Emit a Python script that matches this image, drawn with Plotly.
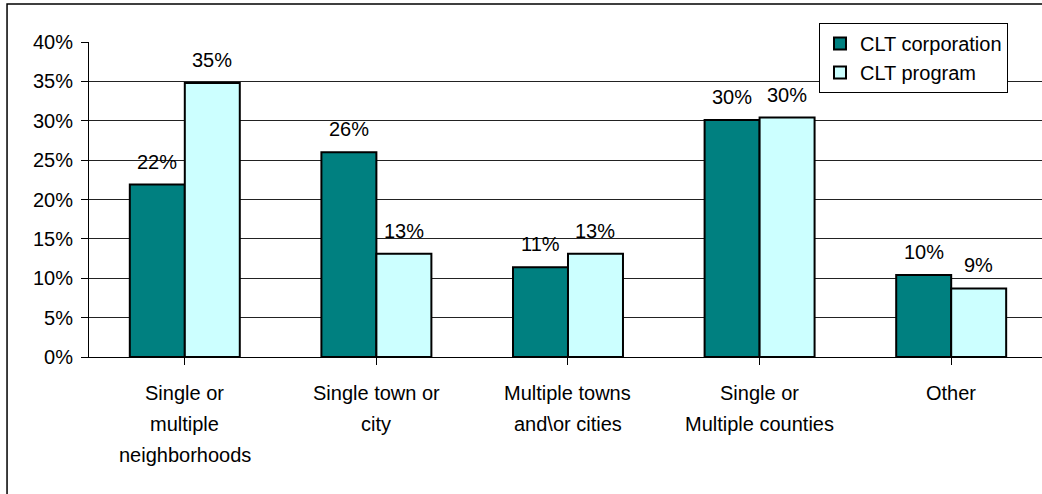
import plotly.graph_objects as go

# data
categories = [
    "Single or<br>multiple<br>neighborhoods",
    "Single town or<br>city",
    "Multiple towns<br>and\\or cities",
    "Single or<br>Multiple counties",
    "Other",
]
corporation = [21.9, 26.0, 11.4, 30.1, 10.4]
program = [34.8, 13.1, 13.1, 30.4, 8.7]
series_names = ["CLT corporation", "CLT program"]
y_ticks = [0, 5, 10, 15, 20, 25, 30, 35, 40]

FONT = "Arial, Liberation Sans, sans-serif"
colors = ["#008080", "#CCFFFF"]

fig = go.Figure()
xs = list(range(len(categories)))
for name, vals, col in zip(series_names, [corporation, program], colors):
    fig.add_trace(go.Bar(
        x=xs, y=vals, name=name,
        marker=dict(color=col, line=dict(color="black", width=2)),
    ))

# value labels above each bar
for i, (a, b) in enumerate(zip(corporation, program)):
    for v, shift in [(a, -27.5), (b, 27.5)]:
        fig.add_annotation(
            x=i, y=v, text=f"{round(v)}%", showarrow=False,
            xshift=shift, yshift=23, yanchor="middle",
            font=dict(size=20, color="black", family=FONT),
        )

# category labels, one annotation per line (Excel-like line spacing)
for i, cat in enumerate(categories):
    for k, line in enumerate(cat.split("<br>")):
        fig.add_annotation(
            x=i, y=0, text=line, showarrow=False,
            yshift=-(36 + 31 * k), yanchor="middle",
            font=dict(size=20, color="black", family=FONT),
        )

# outer chart frame
fig.add_shape(type="rect", xref="paper", yref="paper",
              x0=-0.086, x1=1.2, y0=-0.6, y1=1.121,
              line=dict(color="black", width=1.5), layer="below")

fig.update_layout(
    width=1042, height=494,
    margin=dict(l=89, r=0, t=42, b=137),
    paper_bgcolor="white", plot_bgcolor="white",
    font=dict(family=FONT, size=20, color="black"),
    barmode="group", bargap=0.426, bargroupgap=0,
    showlegend=True,
    legend=dict(
        x=0.766, y=1.06, xanchor="left", yanchor="top",
        bgcolor="white", bordercolor="black", borderwidth=1,
        font=dict(size=20, color="black", family=FONT),
        tracegroupgap=0,
    ),
    xaxis=dict(
        tickmode="array", tickvals=xs, showticklabels=False,
        range=[-0.5, 4.474], tickson="boundaries",
        ticks="outside", ticklen=7, tickcolor="black",
        showline=True, linecolor="black", linewidth=1,
        showgrid=False, zeroline=False,
    ),
    yaxis=dict(
        range=[0, 40], tickmode="array", tickvals=y_ticks,
        ticktext=[f"{t}%" for t in y_ticks],
        ticks="outside", ticklen=7, tickcolor="black",
        ticklabelstandoff=4,
        showline=True, linecolor="black", linewidth=1,
        showgrid=True, gridcolor="#222", gridwidth=1,
        zeroline=False,
    ),
)

fig.write_html(
    "out.html",
    config={"displayModeBar": False},
    post_script="document.body.style.margin='0';document.body.style.overflow='hidden';",
)
